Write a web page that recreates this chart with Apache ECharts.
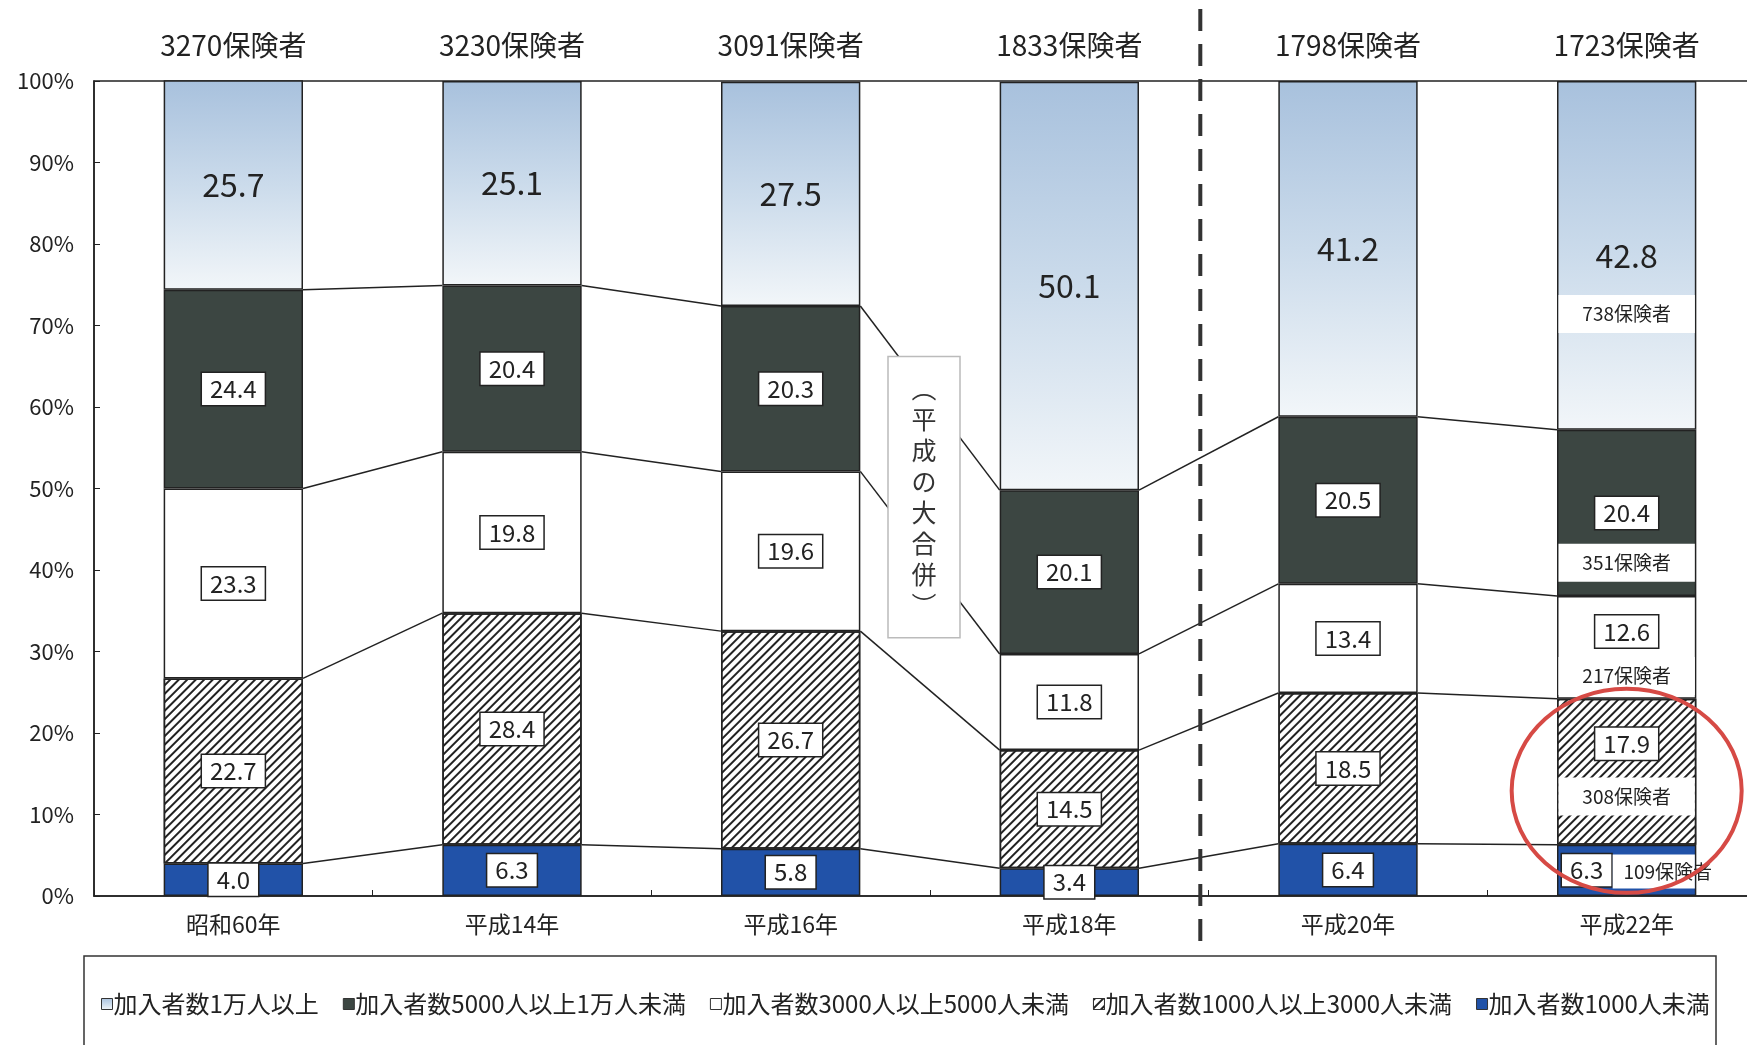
<!DOCTYPE html>
<html>
<head>
<meta charset="utf-8">
<script src="https://cdn.jsdelivr.net/npm/echarts@6/dist/echarts.min.js"></script>
<style>
  html, body { margin: 0; padding: 0; background: #fff; }
  #main { width: 1747px; height: 1045px; }
</style>
</head>
<body>
<div id="main"></div>
<script>
// 年度
var categories = ['昭和60年', '平成14年', '平成16年', '平成18年', '平成20年', '平成22年'];
// 上の保険者数
var insurerCounts = ['3270保険者', '3230保険者', '3091保険者', '1833保険者', '1798保険者', '1723保険者'];

// 構成比 (%) 下から順に
var under1000 = [4.0, 6.3, 5.8, 3.4, 6.4, 6.3];
var from1000to3000 = [22.7, 28.4, 26.7, 14.5, 18.5, 17.9];
var from3000to5000 = [23.3, 19.8, 19.6, 11.8, 13.4, 12.6];
var from5000to10000 = [24.4, 20.4, 20.3, 20.1, 20.5, 20.4];
var over10000 = [25.7, 25.1, 27.5, 50.1, 41.2, 42.8];

var seriesNames = ['加入者数1万人以上', '加入者数5000人以上1万人未満', '加入者数3000人以上5000人未満', '加入者数1000人以上3000人未満', '加入者数1000人未満'];

// 平成22年の注記
var h22Notes = ['738保険者', '351保険者', '217保険者', '308保険者', '109保険者'];
var h22NoteLevels = [71.4, 40.9, 27.0, 12.2, 3.0];

var FONT = '"Noto Sans CJK JP", "Noto Sans", sans-serif';
var INK = '#222';

var myChart = echarts.init(document.getElementById('main'));

// 箱つきラベル
var boxLabel = {
    show: true,
    position: 'inside',
    formatter: function (p) { return p.value.toFixed(1); },
    fontFamily: FONT,
    fontSize: 24,
    color: INK,
    backgroundColor: '#fff',
    borderColor: INK,
    borderWidth: 1.5,
    padding: [5, 8, 3, 8]
};

// 積み上げの境界 (系列線用)
var stacks = [under1000, from1000to3000, from3000to5000, from5000to10000];
var cum = [];
var run = categories.map(function () { return 0; });
stacks.forEach(function (arr) {
    run = run.map(function (v, i) { return v + arr[i]; });
    cum.push(run.slice());
});
var connectorData = [];
for (var k = 0; k < cum.length; k++) {
    for (var i = 0; i < categories.length - 1; i++) {
        connectorData.push([i, cum[k][i], cum[k][i + 1]]);
    }
}

var noteData = h22NoteLevels.map(function (lv, i) { return [categories.length - 1, lv, i]; });

function withOffsets(arr, offsets) {
    return arr.map(function (v, i) {
        if (offsets[i]) return { value: v, label: { offset: offsets[i] } };
        return v;
    });
}

var option = {
    animation: false,
    backgroundColor: '#fff',
    textStyle: { fontFamily: FONT },
    grid: {
        left: 94, right: -19, top: 81, bottom: 149,
        outerBoundsMode: 'none',
        show: true, borderColor: INK, borderWidth: 1.5, backgroundColor: 'transparent'
    },
    legend: {
        bottom: 24,
        left: 96,
        data: seriesNames,
        itemWidth: 11,
        itemHeight: 11,
        itemGap: 24,
        icon: 'rect',
        itemStyle: { borderColor: '#333', borderWidth: 1 },
        textStyle: { fontFamily: FONT, fontSize: 24, color: INK, padding: [0, 0, 0, -4] }
    },
    xAxis: [{
        type: 'category',
        data: categories,
        axisLine: { lineStyle: { color: INK, width: 1.5 } },
        axisTick: { show: true, inside: true, length: 6, lineStyle: { color: INK } },
        axisLabel: { fontFamily: FONT, fontSize: 23, color: INK, margin: 17 }
    }, {
        type: 'category',
        position: 'top',
        data: insurerCounts,
        axisLine: { show: false },
        axisTick: { show: false },
        axisLabel: { fontFamily: FONT, fontSize: 28, color: INK, margin: 22 }
    }],
    yAxis: {
        type: 'value',
        min: 0, max: 100, interval: 10,
        axisLine: { show: true, lineStyle: { color: INK, width: 1.5 } },
        axisTick: { show: true, inside: true, length: 6, lineStyle: { color: INK } },
        splitLine: { show: false },
        axisLabel: { formatter: '{value}%', fontFamily: FONT, fontSize: 22, color: INK, margin: 20 }
    },
    series: [{
        name: seriesNames[4], type: 'bar', stack: 'all', barWidth: '50%',
        data: withOffsets(under1000, { 5: [-40, 0] }),
        itemStyle: { color: '#2152a8', borderColor: INK, borderWidth: 1.5 },
        label: boxLabel
    }, {
        name: seriesNames[3], type: 'bar', stack: 'all',
        data: withOffsets(from1000to3000, { 5: [0, -28] }),
        itemStyle: {
            color: '#fff', borderColor: INK, borderWidth: 1.5,
            decal: {
                symbol: 'rect', symbolSize: 1,
                dashArrayX: [[1, 0]], dashArrayY: [1.6, 3.6],
                rotation: -Math.PI / 4, color: '#222'
            }
        },
        label: boxLabel
    }, {
        name: seriesNames[2], type: 'bar', stack: 'all',
        data: withOffsets(from3000to5000, { 5: [0, -16] }),
        itemStyle: { color: '#fff', borderColor: INK, borderWidth: 1.5 },
        label: boxLabel
    }, {
        name: seriesNames[1], type: 'bar', stack: 'all',
        data: from5000to10000,
        itemStyle: { color: '#3c4642', borderColor: INK, borderWidth: 1.5 },
        label: boxLabel
    }, {
        name: seriesNames[0], type: 'bar', stack: 'all',
        data: over10000,
        itemStyle: {
            color: new echarts.graphic.LinearGradient(0, 0, 0, 1, [
                { offset: 0, color: '#a8c1dd' },
                { offset: 0.5, color: '#cbdbeb' },
                { offset: 1, color: '#f2f6f9' }
            ]),
            borderColor: INK, borderWidth: 1.5
        },
        label: {
            show: true, position: 'inside',
            formatter: function (p) { return p.value.toFixed(1); },
            fontFamily: FONT, fontSize: 32, color: INK
        }
    }, {
        // 系列線
        name: 'connector', type: 'custom', silent: true, z: 1,
        encode: { x: 0, y: 1 },
        data: connectorData,
        renderItem: function (params, api) {
            var idx = api.value(0);
            var p1 = api.coord([idx, api.value(1)]);
            var p2 = api.coord([idx + 1, api.value(2)]);
            var half = api.size([1, 0])[0] * 0.25;
            return {
                type: 'line',
                shape: { x1: p1[0] + half, y1: p1[1], x2: p2[0] - half, y2: p2[1] },
                style: { stroke: INK, lineWidth: 1.5 }
            };
        }
    }, {
        // 平成22年の注記
        name: 'notes', type: 'custom', silent: true, z: 3,
        encode: { x: 0, y: 1 },
        data: noteData,
        renderItem: function (params, api) {
            var p = api.coord([api.value(0), api.value(1)]);
            var n = api.value(2);
            var half = api.size([1, 0])[0] * 0.25;
            var x0 = p[0] - half + 1.5;
            var x1 = p[0] + half - 1.5;
            var h = 38;
            if (n === 4) { x0 = p[0] - 14; h = 34; }
            return {
                type: 'group',
                children: [{
                    type: 'rect',
                    shape: { x: x0, y: p[1] - h / 2, width: x1 - x0, height: h },
                    style: { fill: '#fff' }
                }, {
                    type: 'text',
                    style: {
                        text: h22Notes[n],
                        x: (x0 + x1) / 2 + (n === 4 ? 14 : 0), y: p[1],
                        align: 'center', verticalAlign: 'middle',
                        fontFamily: FONT, fontSize: 19, fill: INK
                    }
                }]
            };
        }
    }]
};

myChart.setOption(option);

// 補助の描画 (点線, 平成の大合併, 赤丸)
var c3 = myChart.convertToPixel({ xAxisIndex: 0 }, 2);
var c4 = myChart.convertToPixel({ xAxisIndex: 0 }, 3);
var c6 = myChart.convertToPixel({ xAxisIndex: 0 }, 5);
var band = c4 - c3;
var yAt = function (v) { return myChart.convertToPixel({ yAxisIndex: 0 }, v); };

var boxTop = yAt(66.2), boxBottom = yAt(31.7);
var boxCx = c3 + band / 2 - 6;
var dashX = c4 + band * 0.47;

myChart.setOption({
    graphic: [{
        type: 'line', z: 100,
        shape: { x1: dashX, y1: 9, x2: dashX, y2: 953 },
        style: { stroke: '#333', lineWidth: 4, lineDash: [22, 13] }
    }, {
        type: 'rect', z: 100,
        shape: { x: boxCx - 36, y: boxTop, width: 72, height: boxBottom - boxTop },
        style: { fill: '#fff', stroke: '#bbb', lineWidth: 1.5 }
    }, {
        type: 'text', z: 101,
        style: {
            text: '︵\n平\n成\nの\n大\n合\n併\n︶',
            x: boxCx, y: (boxTop + boxBottom) / 2,
            align: 'center', verticalAlign: 'middle',
            fontFamily: FONT, fontSize: 25, lineHeight: 31, fill: '#333'
        }
    }, {
        type: 'ellipse', z: 100,
        shape: { cx: c6, cy: yAt(12.9), rx: 115, ry: 102 },
        style: { fill: null, stroke: '#d64a45', lineWidth: 4 }
    }, {
        type: 'rect', z: -1,
        shape: { x: 84, y: 956, width: 1632, height: 120 },
        style: { fill: 'none', stroke: '#333', lineWidth: 1.5 }
    }]
});
</script>
</body>
</html>
